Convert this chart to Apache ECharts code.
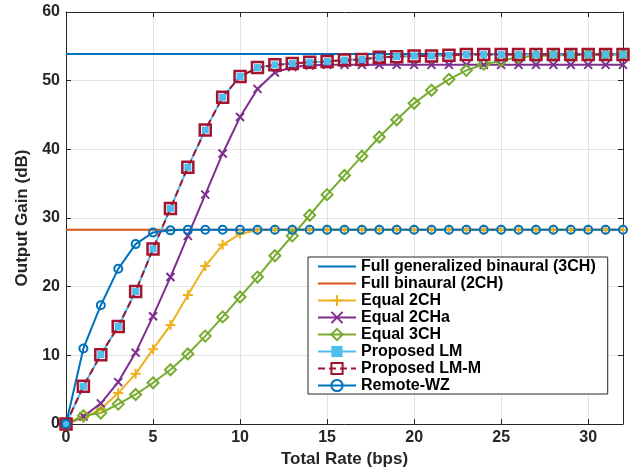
<!DOCTYPE html>
<html><head><meta charset="utf-8">
<script src="https://cdn.jsdelivr.net/npm/echarts@6/dist/echarts.min.js"></script>
<style>html,body{margin:0;padding:0;background:#fff}#c{width:636px;height:473px}</style>
</head><body><div id="c"></div>
<script>
var rates = [];
for (var i = 0; i <= 32; i++) rates.push(i);
var xTicks = [0, 5, 10, 15, 20, 25, 30];
var yTicks = [0, 10, 20, 30, 40, 50, 60];
var fullGen3CH = 53.9;
var fullBin2CH = 28.3;
var equal2CH = [0, 0.9, 2.2, 4.5, 7.3, 10.9, 14.4, 18.8, 23.0, 26.1, 27.7, 28.2, 28.3, 28.3, 28.3, 28.3, 28.3, 28.3, 28.3, 28.3, 28.3, 28.3, 28.3, 28.3, 28.3, 28.3, 28.3, 28.3, 28.3, 28.3, 28.3, 28.3, 28.3];
var equal2CHa = [0, 1.1, 3.0, 6.1, 10.4, 15.7, 21.4, 27.4, 33.4, 39.4, 44.7, 48.8, 51.2, 52.0, 52.2, 52.3, 52.3, 52.3, 52.3, 52.3, 52.3, 52.3, 52.3, 52.3, 52.3, 52.3, 52.3, 52.3, 52.3, 52.3, 52.3, 52.3, 52.3];
var equal3CH = [0, 1.2, 1.6, 2.9, 4.3, 6.0, 7.9, 10.2, 12.8, 15.6, 18.5, 21.4, 24.5, 27.4, 30.4, 33.4, 36.2, 39.0, 41.8, 44.3, 46.7, 48.6, 50.2, 51.5, 52.4, 52.9, 53.4, 53.6, 53.7, 53.7, 53.8, 53.8, 53.8];
var proposedLM = [0, 5.5, 10.1, 14.2, 19.3, 25.5, 31.4, 37.4, 42.8, 47.6, 50.6, 51.9, 52.3, 52.5, 52.7, 52.8, 53.0, 53.1, 53.4, 53.5, 53.6, 53.6, 53.7, 53.8, 53.8, 53.8, 53.8, 53.8, 53.8, 53.8, 53.8, 53.8, 53.8];
var proposedLMM = [0, 5.5, 10.1, 14.2, 19.3, 25.5, 31.4, 37.4, 42.8, 47.6, 50.6, 51.9, 52.3, 52.5, 52.7, 52.8, 53.0, 53.1, 53.4, 53.5, 53.6, 53.6, 53.7, 53.8, 53.8, 53.8, 53.8, 53.8, 53.8, 53.8, 53.8, 53.8, 53.8];
var remoteWZ = [0, 11.0, 17.3, 22.6, 26.2, 27.9, 28.2, 28.3, 28.3, 28.3, 28.3, 28.3, 28.3, 28.3, 28.3, 28.3, 28.3, 28.3, 28.3, 28.3, 28.3, 28.3, 28.3, 28.3, 28.3, 28.3, 28.3, 28.3, 28.3, 28.3, 28.3, 28.3, 28.3];
var names = ['Full generalized binaural (3CH)', 'Full binaural (2CH)', 'Equal 2CH', 'Equal 2CHa', 'Equal 3CH', 'Proposed LM', 'Proposed LM-M', 'Remote-WZ'];

function pairs(ys) { return rates.map(function (x, i) { return [x, ys[i]]; }); }
var FONT = '"Liberation Sans", Arial, Helvetica, sans-serif';
var TXT = '#262626';
var PLUS = 'path://M0,-5L0,5M-5,0L5,0';
var CROSS = 'path://M-5,-5L5,5M-5,5L5,-5';

function lineSeries(name, data, color, symbol, size, extra) {
  var s = {
    name: name, type: 'line', data: data, xAxisIndex: 0, yAxisIndex: 0,
    symbol: symbol, symbolSize: size, showSymbol: symbol !== 'none',
    lineStyle: { color: color, width: 2 },
    itemStyle: { color: 'transparent', borderColor: color, borderWidth: 2 },
    emphasis: { disabled: true }, animation: false
  };
  if (extra) for (var k in extra) s[k] = extra[k];
  return s;
}

var chart = echarts.init(document.getElementById('c'), null, { renderer: 'canvas' });
var axisCommon = {
  type: 'value', axisLine: { show: true, onZero: false, lineStyle: { color: TXT, width: 1 } },
  axisTick: { show: true, inside: true, length: 5, lineStyle: { color: TXT } }
};
var legendData = names.map(function (n, i) {
  if (i < 2) return { name: n, itemStyle: { color: 'transparent', borderColor: 'transparent', borderWidth: 0, opacity: 0 } };
  return { name: n };
});
chart.setOption({
  backgroundColor: '#fff',
  textStyle: { fontFamily: FONT },
  grid: { left: 66, right: 13, top: 12, bottom: 49, containLabel: false },
  xAxis: [
    Object.assign({}, axisCommon, {
      min: 0, max: 32, interval: 5, position: 'bottom',
      name: 'Total Rate (bps)', nameLocation: 'middle', nameGap: 24,
      nameTextStyle: { color: TXT, fontSize: 17, fontWeight: 'bold', fontFamily: FONT },
      axisLabel: { color: TXT, fontSize: 16, fontWeight: 'bold', margin: 6, showMaxLabel: false, fontFamily: FONT,
        formatter: function (v) { return xTicks.indexOf(v) >= 0 ? String(v) : ''; } },
      splitLine: { show: true, lineStyle: { color: '#e3e3e3', width: 1 } }
    }),
    Object.assign({}, axisCommon, {
      min: 0, max: 32, interval: 5, position: 'top',
      axisLabel: { show: false }, splitLine: { show: false }
    })
  ],
  yAxis: [
    Object.assign({}, axisCommon, {
      min: 0, max: 60, interval: 10, position: 'left',
      name: 'Output Gain (dB)', nameLocation: 'middle', nameGap: 31, nameRotate: 90,
      nameTextStyle: { color: TXT, fontSize: 17, fontWeight: 'bold', fontFamily: FONT },
      axisLabel: { color: TXT, fontSize: 16, fontWeight: 'bold', margin: 6, fontFamily: FONT,
        formatter: function (v) { return yTicks.indexOf(v) >= 0 ? String(v) : ''; } },
      splitLine: { show: true, lineStyle: { color: '#e3e3e3', width: 1 } }
    }),
    Object.assign({}, axisCommon, {
      min: 0, max: 60, interval: 10, position: 'right',
      axisLabel: { show: false }, splitLine: { show: false }
    })
  ],
  legend: {
    orient: 'vertical', left: 308, top: 257,
    data: legendData,
    backgroundColor: '#fff', borderColor: TXT, borderWidth: 1,
    padding: [1, 12, 0, 9], itemGap: 0, itemWidth: 38, itemHeight: 14,
    textStyle: { color: '#000', fontSize: 16, fontWeight: 'bold', fontFamily: FONT, lineHeight: 17 },
    selectedMode: false
  },
  series: [
    lineSeries(names[0], [[0, fullGen3CH], [32, fullGen3CH]], '#0072BD', 'none', 0),
    lineSeries(names[1], [[0, fullBin2CH], [32, fullBin2CH]], '#D95319', 'none', 0),
    lineSeries(names[2], pairs(equal2CH), '#EDB120', PLUS, 10),
    lineSeries(names[3], pairs(equal2CHa), '#7E2F8E', CROSS, 8),
    lineSeries(names[4], pairs(equal3CH), '#77AC30', 'diamond', 11),
    lineSeries(names[5], pairs(proposedLM), '#4DBEEE', 'rect', 7, {
      itemStyle: { color: '#4DBEEE', borderColor: '#4DBEEE', borderWidth: 0 } }),
    lineSeries(names[6], pairs(proposedLMM), '#A2142F', 'rect', 11, {
      lineStyle: { color: '#A2142F', width: 2, type: [7, 4] },
      itemStyle: { color: 'transparent', borderColor: '#A2142F', borderWidth: 2.5 } }),
    lineSeries(names[7], pairs(remoteWZ), '#0072BD', 'circle', 8)
  ]
});
</script></body></html>
